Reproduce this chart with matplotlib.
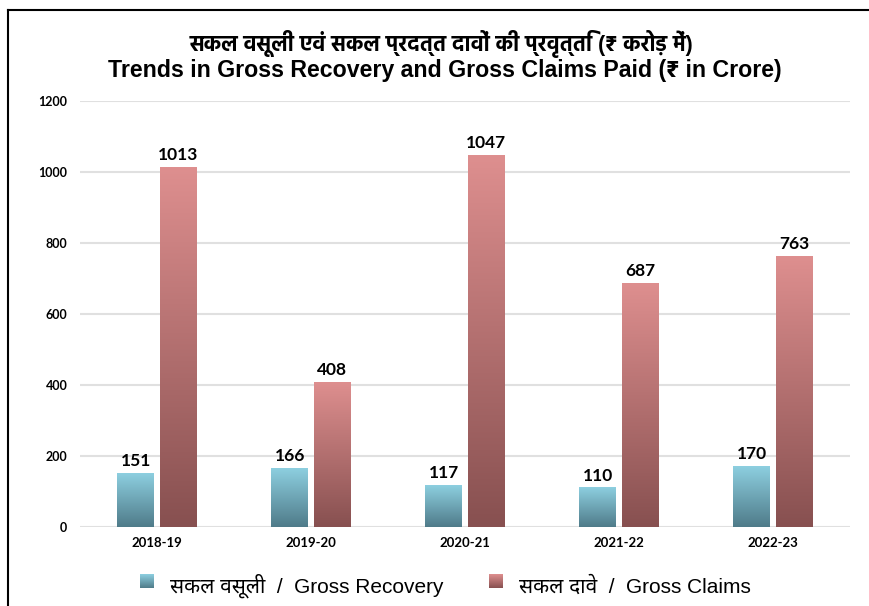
import matplotlib
matplotlib.use("Agg")
import matplotlib.pyplot as plt
import numpy as np
from matplotlib.colors import LinearSegmentedColormap
from matplotlib.legend_handler import HandlerBase
from matplotlib.patches import Rectangle
from matplotlib.lines import Line2D

years = ["2018-19", "2019-20", "2020-21", "2021-22", "2022-23"]
gross_recovery = [151, 166, 117, 110, 170]
gross_claims = [1013, 408, 1047, 687, 763]

title_hi = "सकल वसूली एवं सकल प्रदत्त दावों की प्रवृत्ति (₹ करोड़ में)"
title_en = "Trends in Gross Recovery and Gross Claims Paid (₹ in Crore)"
legend_labels = ["सकल वसूली  /  Gross Recovery", "सकल दावे  /  Gross Claims"]

# Latin from Liberation, Devanagari falls through to the next family
title_fam = ["Liberation Sans", "Hind", "DejaVu Sans"]
legend_fam = ["Liberation Sans", "Noto Sans Devanagari", "DejaVu Sans"]
num_fam = ["Lato", "DejaVu Sans"]

blue_top, blue_bot = "#8dcfe0", "#4f7b89"
red_top, red_bot = "#de8f8f", "#875050"

fig = plt.figure(figsize=(8.7, 6.06), dpi=100)
ax = fig.add_axes([80 / 870, 1 - 527 / 606, 770 / 870, 426 / 606])

x = np.arange(len(years))
w = 0.24
off = 0.137
b1 = ax.bar(x - off, gross_recovery, w, color="none", zorder=2)
b2 = ax.bar(x + off, gross_claims, w, color="none", zorder=2)


def fill_gradient(bars, top, bottom):
    cmap = LinearSegmentedColormap.from_list("g", [bottom, top])
    grad = np.linspace(0, 1, 256).reshape(-1, 1)
    for b in bars:
        x0, y0 = b.get_x(), b.get_y()
        ax.imshow(grad, cmap=cmap, origin="lower", aspect="auto", zorder=2,
                  extent=[x0, x0 + b.get_width(), y0, y0 + b.get_height()])


fill_gradient(b1, blue_top, blue_bot)
fill_gradient(b2, red_top, red_bot)

ax.bar_label(b1, padding=3, fontsize=12.5, fontweight="bold", family=num_fam)
ax.bar_label(b2, padding=3, fontsize=12.5, fontweight="bold", family=num_fam)

ax.set_xlim(-0.5, len(years) - 0.5)
ax.set_ylim(0, 1200)
ax.set_yticks(range(0, 1201, 200))
ax.set_xticks(x)
ax.set_xticklabels(years)
for lab in ax.get_xticklabels():
    lab.set_fontweight("bold")
    lab.set_fontsize(9.5)
    lab.set_family(num_fam)
for lab in ax.get_yticklabels():
    lab.set_fontweight("bold")
    lab.set_fontsize(9)
    lab.set_family(num_fam)
ax.tick_params(length=0)
ax.tick_params(axis="y", pad=9)
ax.tick_params(axis="x", pad=7)
ax.yaxis.grid(True, color="#e0e0e0", lw=1.5)
ax.set_axisbelow(True)
for s in ax.spines.values():
    s.set_visible(False)

fig.text(0.507, 1 - 44 / 606, title_hi, ha="center", va="center",
         fontsize=15.5, fontweight="bold", family=title_fam)
fig.text(0.511, 1 - 71 / 606, title_en, ha="center", va="center",
         fontsize=16.7, fontweight="bold", family=title_fam)


class GradHandler(HandlerBase):
    def __init__(self, top, bottom):
        super().__init__()
        self.top = top
        self.bottom = bottom

    def create_artists(self, legend, orig, xd, yd, width, height, fontsize, trans):
        cmap = LinearSegmentedColormap.from_list("g", [self.bottom, self.top])
        s = height * 0.75
        x0 = xd + (width - s) / 2
        y0 = yd + (height - s) / 2
        n = 14
        arts = []
        for i in range(n):
            r = Rectangle((x0, y0 + s * i / n), s, s / n + 0.3,
                          facecolor=cmap((i + 0.5) / n), edgecolor="none",
                          transform=trans)
            arts.append(r)
        return arts


h1 = Rectangle((0, 0), 1, 1)
h2 = Rectangle((0, 0), 1, 1)
fig.legend([h1, h2], legend_labels, loc="center", bbox_to_anchor=(0.51, 1 - 586 / 606),
           ncol=2, frameon=False, handlelength=1.0, handleheight=1.0,
           handletextpad=0.6, columnspacing=2.0,
           prop={"family": legend_fam, "size": 15},
           handler_map={h1: GradHandler(blue_top, blue_bot),
                        h2: GradHandler(red_top, red_bot)})

# frame lines at the left and top
fig.add_artist(Line2D([8 / 870, 8 / 870], [0, 1 - 10 / 606], color="black", lw=1.5))
fig.add_artist(Line2D([8 / 870, 1], [1 - 10 / 606, 1 - 10 / 606], color="black", lw=1.5))

fig.savefig("out.png", dpi=100)
